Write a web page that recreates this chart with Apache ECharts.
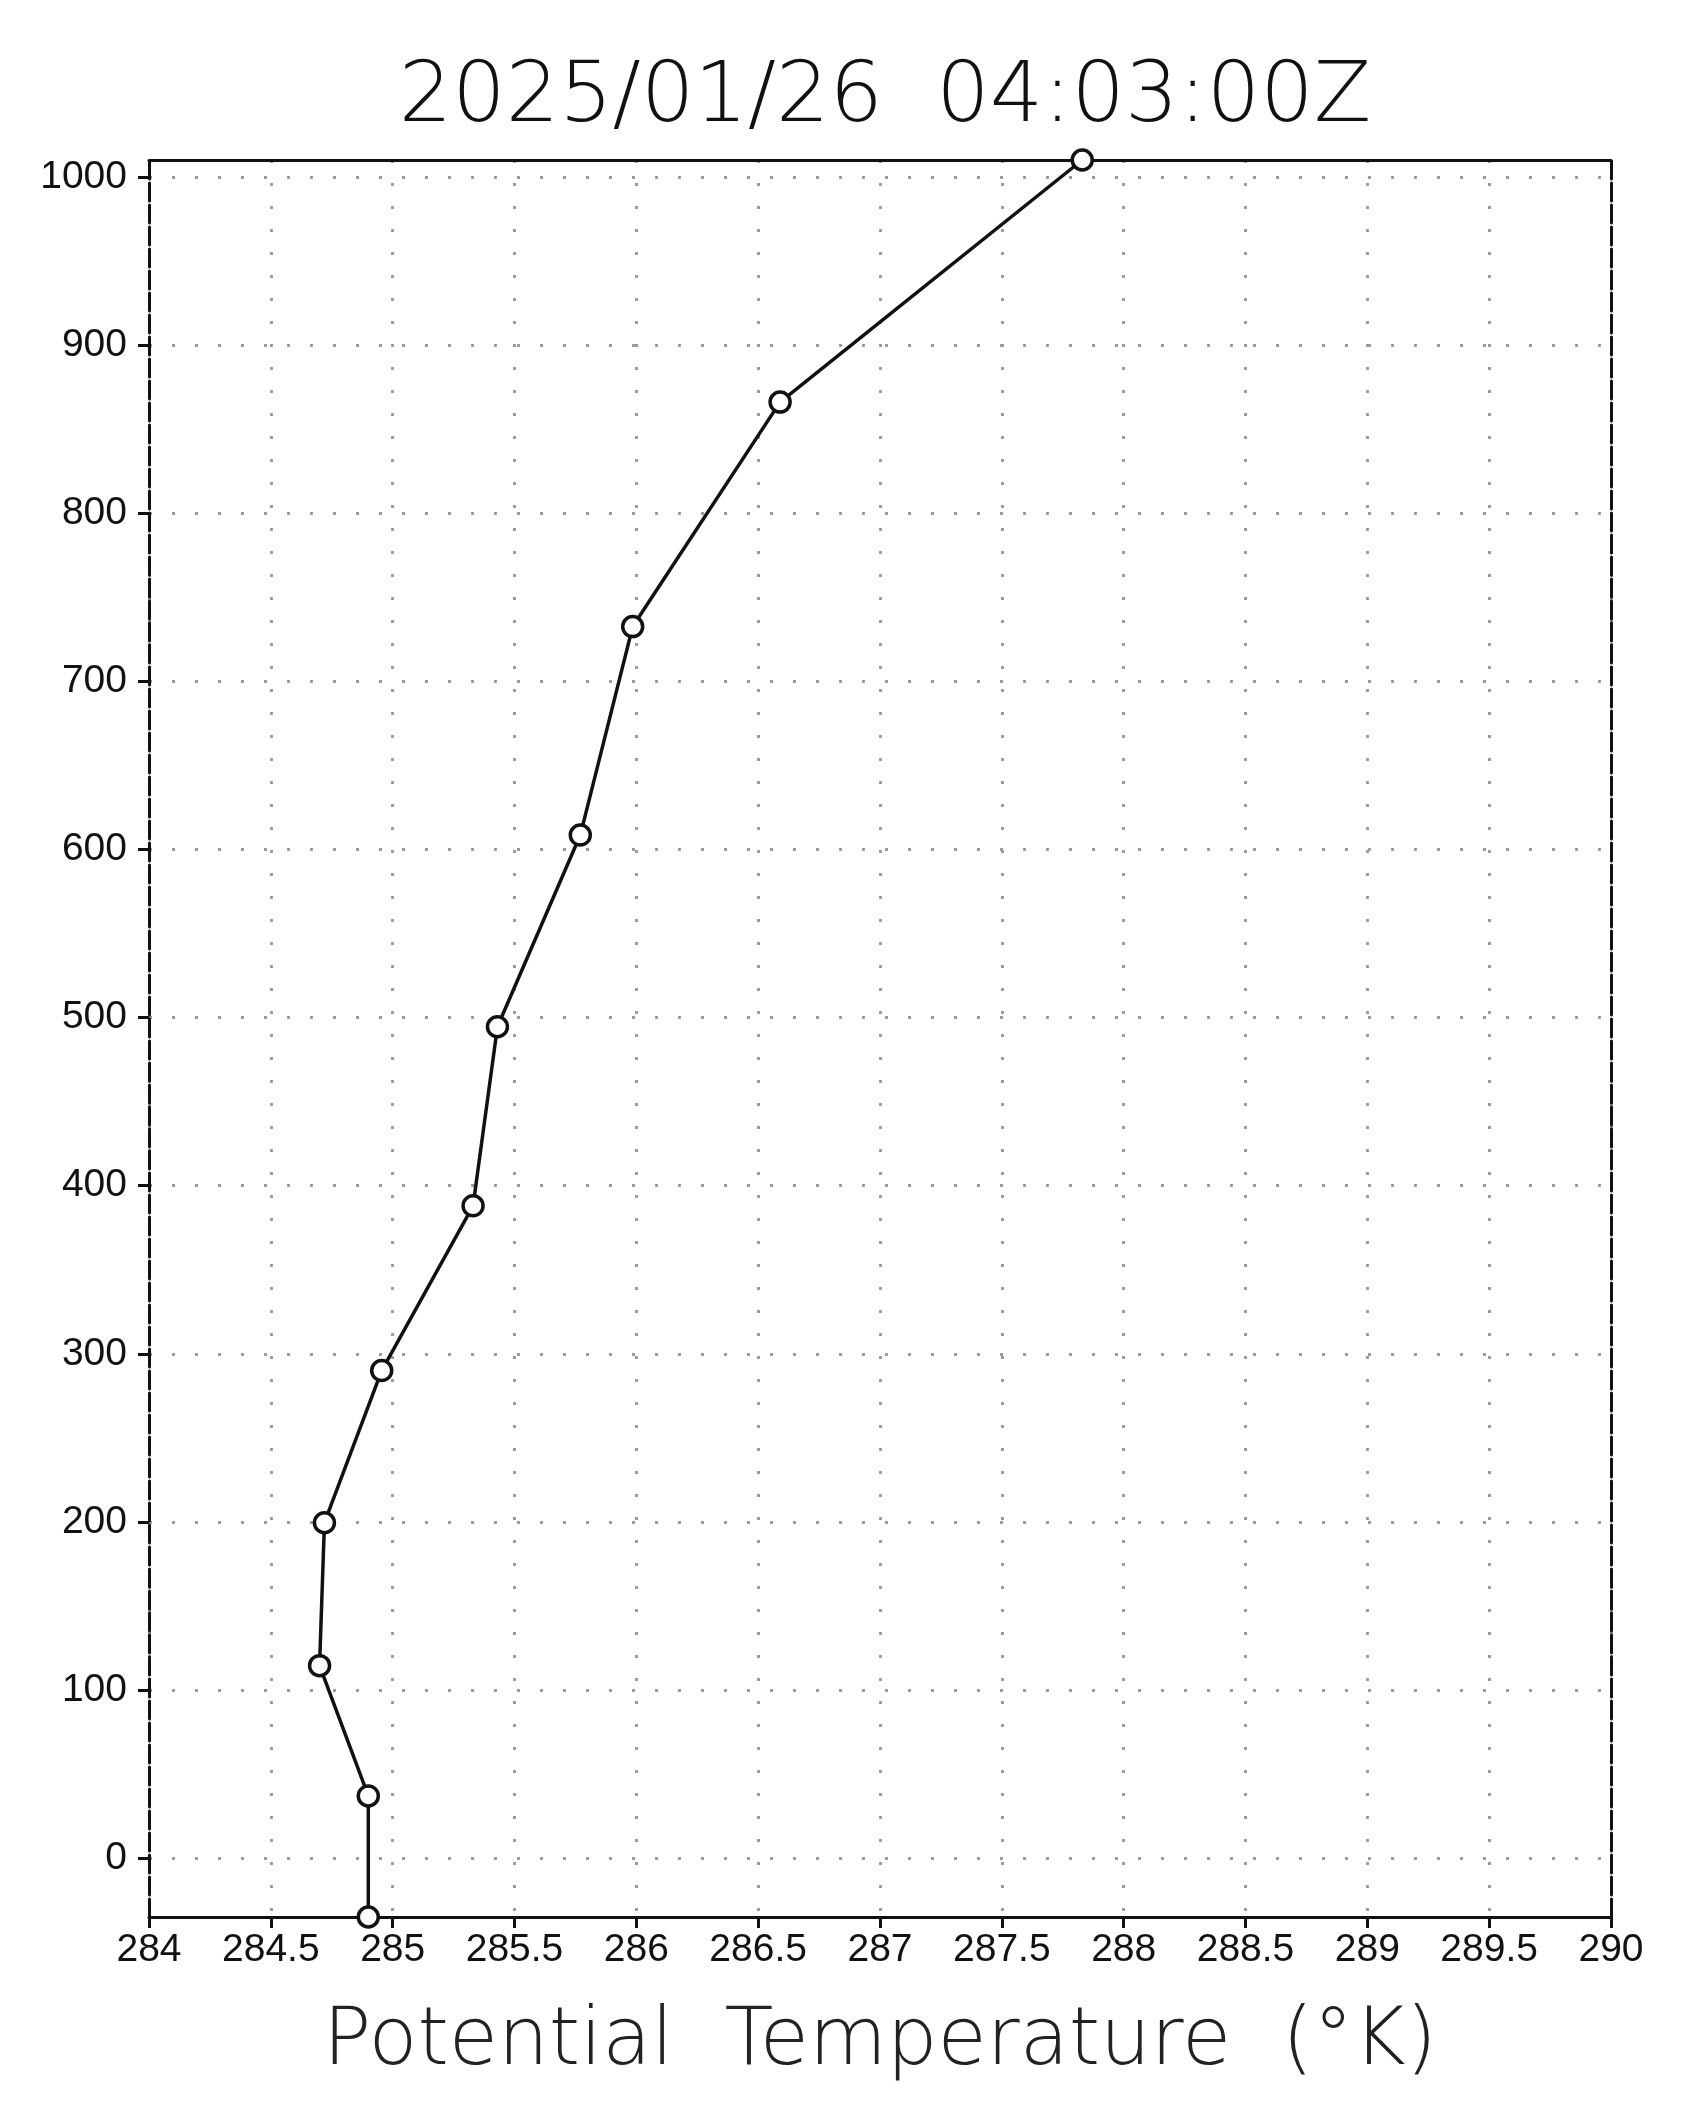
<!DOCTYPE html>
<html>
<head>
<meta charset="utf-8">
<title>Potential Temperature profile</title>
<script src="https://cdn.jsdelivr.net/npm/echarts@6/dist/echarts.min.js"></script>
<style>
    html, body { margin: 0; padding: 0; background: #fff; }
    #chart { width: 1695px; height: 2124px; }
</style>
</head>
<body>
<div id="chart"></div>
<script>
// data (bottom -> top)
var thetaK = [284.90, 284.90, 284.70, 284.72, 284.955, 285.33, 285.43, 285.77, 285.985, 286.59, 287.83];
var heights = [-35, 37, 114.5, 199.5, 290, 388, 494.5, 608.5, 732.5, 866, 1010];

var xTicks = [284, 284.5, 285, 285.5, 286, 286.5, 287, 287.5, 288, 288.5, 289, 289.5, 290];
var yTicks = [0, 100, 200, 300, 400, 500, 600, 700, 800, 900, 1000];

var titleText = '2025/01/26  04:03:00Z';
var xName = 'Potential  Temperature  (°K)';

var points = [];
for (var i = 0; i < thetaK.length; i++) {
    points.push([thetaK[i], heights[i]]);
}

var labelFont = 'Liberation Sans';
var thinFont = '"DejaVu Sans", sans-serif';

// dotted grid like the GrADS output
var dotted = { color: '#9c9c9c', width: 3, type: [3, 20] };

var chart = echarts.init(document.getElementById('chart'));
var option = {
    backgroundColor: '#fff',
    animation: false,
    title: {
        text: titleText,
        left: 880,
        textAlign: 'center',
        top: 52,
        textStyle: {
            fontFamily: thinFont,
            fontWeight: 200,
            fontSize: 84,
            color: '#111'
        }
    },
    grid: { left: 149, right: 84, top: 160, bottom: 207 },
    xAxis: [{
        type: 'value',
        min: 284,
        max: 290,
        interval: 0.5,
        position: 'bottom',
        name: xName,
        nameLocation: 'middle',
        nameGap: 86,
        nameTextStyle: {
            fontFamily: thinFont,
            fontWeight: 200,
            fontSize: 80,
            color: '#222'
        },
        axisLine: { onZero: false, lineStyle: { color: '#111', width: 3 } },
        axisTick: { show: true, inside: false, length: 11, lineStyle: { color: '#111', width: 3 } },
        axisLabel: {
            margin: 14,
            fontFamily: labelFont,
            fontSize: 39,
            color: '#111',
            formatter: function(v) { return xTicks.indexOf(v) >= 0 ? String(v) : ''; }
        },
        splitLine: { show: true, lineStyle: dotted }
    }, {
        type: 'value',
        min: 284,
        max: 290,
        position: 'top',
        axisLine: { show: true, onZero: false, lineStyle: { color: '#111', width: 3 } },
        axisTick: { show: false },
        axisLabel: { show: false },
        splitLine: { show: false }
    }],
    yAxis: [{
        type: 'value',
        min: -35,
        max: 1010,
        splitNumber: 10,
        minInterval: 100,
        maxInterval: 100,
        position: 'left',
        axisLine: { show: true, onZero: false, lineStyle: { color: '#111', width: 3, type: [18, 4] } },
        axisTick: {
            show: true, inside: false, length: 11,
            customValues: yTicks,
            lineStyle: { color: '#111', width: 3 }
        },
        axisLabel: {
            margin: 22,
            customValues: yTicks,
            fontFamily: labelFont,
            fontSize: 39,
            color: '#111',
            formatter: function(v) { return String(v); }
        },
        splitLine: { show: true, lineStyle: dotted }
    }, {
        type: 'value',
        min: -35,
        max: 1010,
        position: 'right',
        axisLine: { show: true, onZero: false, lineStyle: { color: '#111', width: 3, type: [18, 4] } },
        axisTick: { show: false },
        axisLabel: { show: false },
        splitLine: { show: false }
    }],
    series: [{
        type: 'line',
        xAxisIndex: 0,
        yAxisIndex: 0,
        data: points,
        clip: true,
        symbol: 'circle',
        symbolSize: 20,
        showAllSymbol: true,
        lineStyle: { color: '#111', width: 3.5 },
        itemStyle: { color: '#fff', borderColor: '#111', borderWidth: 3.5 },
        z: 3
    }]
};
chart.setOption(option);
</script>
</body>
</html>
